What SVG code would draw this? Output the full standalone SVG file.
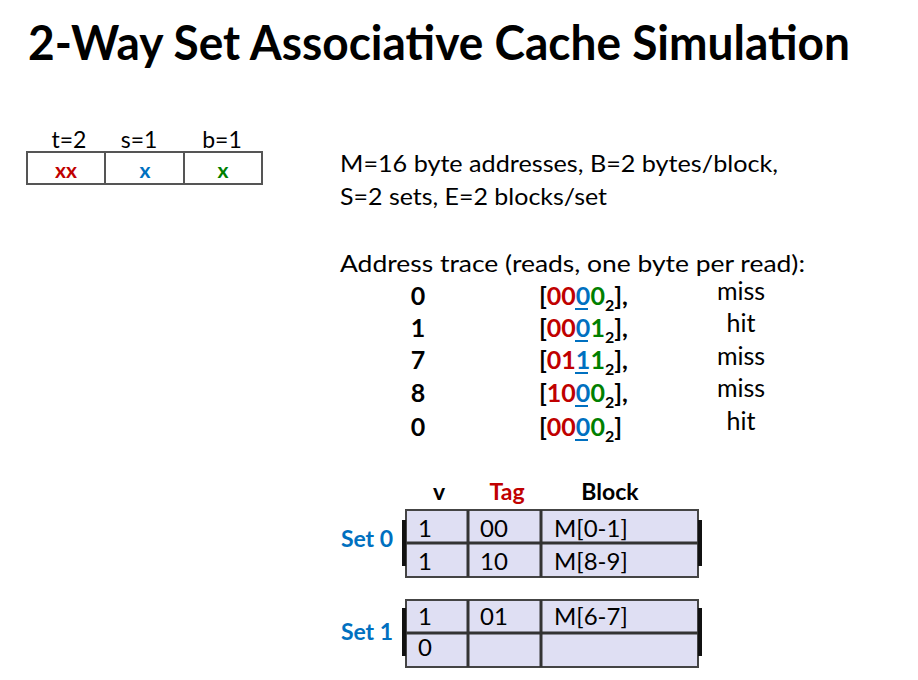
<svg xmlns="http://www.w3.org/2000/svg" width="918" height="680" viewBox="0 0 918 680">
<style>
text{font-family:Lato,"Open Sans","Liberation Sans",sans-serif;fill:#000}
.b{font-weight:bold}
.r{fill:#c00000}
.bl{fill:#0070c0}
.g{fill:#008000}
.body{font-size:23px}
.cell{font-size:24px}
.box{fill:#fff;stroke:#555;stroke-width:2}
.tbl{fill:#dfdff3;stroke:#444;stroke-width:2}
.div{stroke:#333;stroke-width:3}
.bar{stroke:#111;stroke-width:4}
.ul{stroke:#0070c0;stroke-width:2}
.mid{text-anchor:middle}
.tr{font-size:25px;font-weight:bold}
.res{font-size:25px}
</style>
<rect width="918" height="680" fill="#fff"/>
<text x="28" y="60" class="b" font-size="47" textLength="822" lengthAdjust="spacingAndGlyphs">2-Way Set Associative Cache Simulation</text>

<g id="address-fields">
<rect class="box" x="27" y="152" width="235" height="32"/>
<line x1="105" y1="152" x2="105" y2="184" stroke="#555" stroke-width="2"/>
<line x1="184" y1="152" x2="184" y2="184" stroke="#555" stroke-width="2"/>
<text x="69" y="148" class="mid body">t=2</text>
<text x="139" y="148" class="mid body">s=1</text>
<text x="222" y="148" class="mid body">b=1</text>
<text x="66" y="178" class="mid b r" font-size="21">xx</text>
<text x="145" y="178" class="mid b bl" font-size="21">x</text>
<text x="223" y="178" class="mid b g" font-size="21">x</text>
</g>

<g id="params">
<text x="340" y="172" class="body" textLength="438" lengthAdjust="spacingAndGlyphs">M=16 byte addresses, B=2 bytes/block,</text>
<text x="340" y="205" class="body" textLength="267" lengthAdjust="spacingAndGlyphs">S=2 sets, E=2 blocks/set</text>
<text x="340" y="272" class="body" textLength="465" lengthAdjust="spacingAndGlyphs">Address trace (reads, one byte per read):</text>
</g>

<g id="trace">
<text x="418" y="305" class="mid tr">0</text>
<text x="418" y="337" class="mid tr">1</text>
<text x="418" y="369" class="mid tr">7</text>
<text x="418" y="402" class="mid tr">8</text>
<text x="418" y="436" class="mid tr">0</text>

<text x="539" y="305" class="tr">[<tspan class="r">00</tspan><tspan class="bl">0</tspan><tspan class="g">0</tspan><tspan font-size="16" dy="6">2</tspan><tspan dy="-6">],</tspan></text>
<text x="539" y="337" class="tr">[<tspan class="r">00</tspan><tspan class="bl">0</tspan><tspan class="g">1</tspan><tspan font-size="16" dy="6">2</tspan><tspan dy="-6">],</tspan></text>
<text x="539" y="369" class="tr">[<tspan class="r">01</tspan><tspan class="bl">1</tspan><tspan class="g">1</tspan><tspan font-size="16" dy="6">2</tspan><tspan dy="-6">],</tspan></text>
<text x="539" y="402" class="tr">[<tspan class="r">10</tspan><tspan class="bl">0</tspan><tspan class="g">0</tspan><tspan font-size="16" dy="6">2</tspan><tspan dy="-6">],</tspan></text>
<text x="539" y="436" class="tr">[<tspan class="r">00</tspan><tspan class="bl">0</tspan><tspan class="g">0</tspan><tspan font-size="16" dy="6">2</tspan><tspan dy="-6">]</tspan></text>
<line class="ul" x1="575" y1="309" x2="588" y2="309"/>
<line class="ul" x1="575" y1="341" x2="588" y2="341"/>
<line class="ul" x1="575" y1="373" x2="588" y2="373"/>
<line class="ul" x1="575" y1="406" x2="588" y2="406"/>
<line class="ul" x1="575" y1="440" x2="588" y2="440"/>

<text x="741" y="300" class="mid res">miss</text>
<text x="741" y="332" class="mid res">hit</text>
<text x="741" y="365" class="mid res">miss</text>
<text x="741" y="397" class="mid res">miss</text>
<text x="741" y="430" class="mid res">hit</text>
</g>

<g id="headers">
<text x="439" y="500" class="mid b" font-size="23">v</text>
<text x="507" y="500" class="mid b r" font-size="23">Tag</text>
<text x="610" y="500" class="mid b" font-size="23">Block</text>
</g>

<g id="set0">
<text x="367" y="547" class="mid b bl" font-size="23">Set 0</text>
<rect class="tbl" x="406" y="510" width="292" height="67"/>
<line class="div" x1="406" y1="543" x2="698" y2="543"/>
<line class="div" x1="468" y1="510" x2="468" y2="577"/>
<line class="div" x1="541" y1="510" x2="541" y2="577"/>
<line class="bar" x1="404" y1="520" x2="404" y2="566"/>
<line class="bar" x1="700" y1="520" x2="700" y2="566"/>
<text x="418" y="537" class="cell">1</text>
<text x="480" y="537" class="cell">00</text>
<text x="554" y="537" class="cell">M[0-1]</text>
<text x="418" y="570" class="cell">1</text>
<text x="480" y="570" class="cell">10</text>
<text x="554" y="570" class="cell">M[8-9]</text>
</g>

<g id="set1">
<text x="367" y="640" class="mid b bl" font-size="23">Set 1</text>
<rect class="tbl" x="406" y="600" width="292" height="67"/>
<line class="div" x1="406" y1="633" x2="698" y2="633"/>
<line class="div" x1="468" y1="600" x2="468" y2="667"/>
<line class="div" x1="541" y1="600" x2="541" y2="667"/>
<line class="bar" x1="404" y1="608" x2="404" y2="656"/>
<line class="bar" x1="700" y1="608" x2="700" y2="656"/>
<text x="418" y="625" class="cell">1</text>
<text x="480" y="625" class="cell">01</text>
<text x="554" y="625" class="cell">M[6-7]</text>
<text x="418" y="656" class="cell">0</text>
</g>
</svg>
